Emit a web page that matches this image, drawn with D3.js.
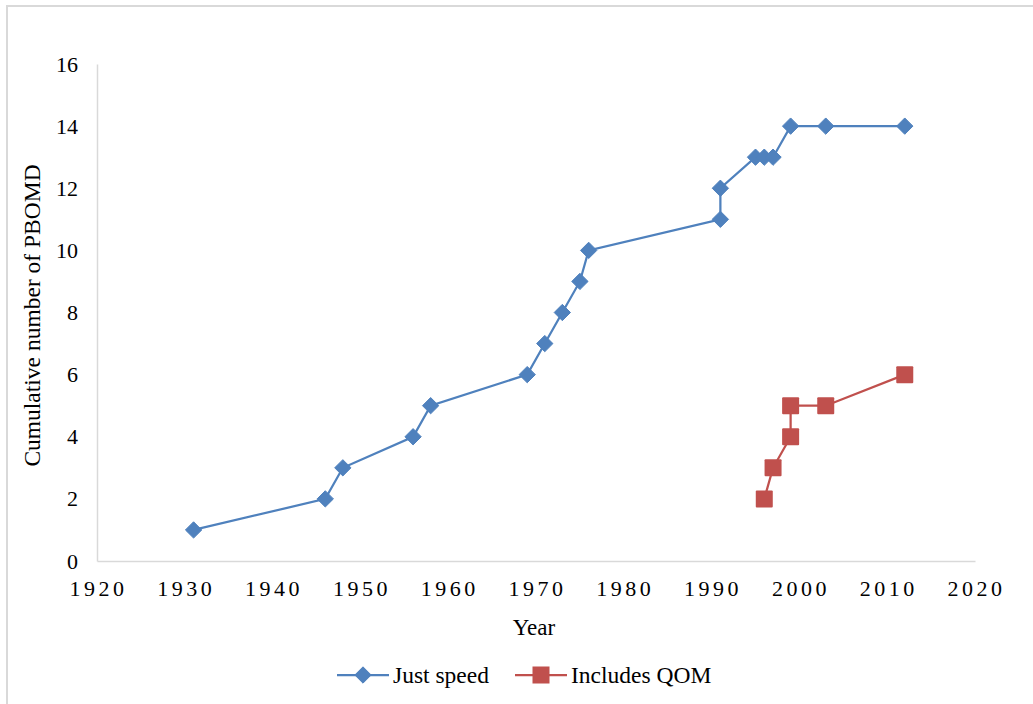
<!DOCTYPE html>
<html>
<head>
<meta charset="utf-8">
<script src="https://cdn.jsdelivr.net/npm/d3@7"></script>
<style>
  body { margin: 0; background: #fff; }
  svg text { font-family: "Liberation Serif", "Times New Roman", Times, serif; fill: #000; }
</style>
</head>
<body>
<div id="chart"></div>
<script>
// Just speed series
const speedYears = [1931, 1946, 1948, 1956, 1958, 1969, 1971, 1973, 1975, 1976, 1991, 1991, 1995, 1996, 1997, 1999, 2003, 2012];
const speedCounts = [1, 2, 3, 4, 5, 6, 7, 8, 9, 10, 11, 12, 13, 13, 13, 14, 14, 14];

// Includes QOM series
const qomYears = [1996, 1997, 1999, 1999, 2003, 2012];
const qomCounts = [2, 3, 4, 5, 5, 6];

const xTicks = [1920, 1930, 1940, 1950, 1960, 1970, 1980, 1990, 2000, 2010, 2020];
const yTicks = [0, 2, 4, 6, 8, 10, 12, 14, 16];

const seriesNames = ["Just speed", "Includes QOM"];
const colors = ["#4f81bd", "#c0504d"];

const width = 1033, height = 704;
const margin = { top: 64, right: 58, bottom: 143, left: 97 };
const innerW = width - margin.left - margin.right;
const innerH = height - margin.top - margin.bottom;

const svg = d3.select("#chart").append("svg")
    .attr("width", width)
    .attr("height", height);

// outer frame (cut off at right and bottom like the picture)
svg.append("rect")
    .attr("x", 7).attr("y", 6)
    .attr("width", width + 10).attr("height", height + 10)
    .attr("fill", "none")
    .attr("stroke", "#d9d9d9")
    .attr("stroke-width", 2);

const g = svg.append("g")
    .attr("transform", `translate(${margin.left},${margin.top})`);

const x = d3.scaleLinear().domain([1920, 2020]).range([0, innerW]);
const y = d3.scaleLinear().domain([0, 16]).range([innerH, 0]);

// axes
const xAxis = g.append("g")
    .attr("transform", `translate(0,${innerH})`)
    .call(d3.axisBottom(x).tickValues(xTicks).tickFormat(d3.format("d")).tickSize(0).tickPadding(19));
const yAxis = g.append("g")
    .call(d3.axisLeft(y).tickValues(yTicks).tickSize(0).tickPadding(19));

[xAxis, yAxis].forEach(a => {
    a.attr("font-family", null);
    a.select(".domain").attr("stroke", "#d9d9d9").attr("stroke-width", 1.5);
    a.selectAll("text")
        .style("font-family", '"Liberation Serif", "Times New Roman", serif')
        .style("font-size", "22px")
        .attr("fill", "#000");
});
xAxis.selectAll("text").style("letter-spacing", "3.5px").attr("dx", "1px");

// axis titles
g.append("text")
    .attr("x", innerW / 2 - 2)
    .attr("y", innerH + 74)
    .attr("text-anchor", "middle")
    .style("font-size", "23px")
    .text("Year");

g.append("text")
    .attr("transform", `translate(${-57},${innerH / 2 + 3}) rotate(-90)`)
    .attr("text-anchor", "middle")
    .style("font-size", "23.5px")
    .text("Cumulative number of PBOMD");

const line = d3.line().x(d => x(d[0])).y(d => y(d[1]));

const speedData = speedYears.map((v, i) => [v, speedCounts[i]]);
const qomData = qomYears.map((v, i) => [v, qomCounts[i]]);

// Just speed line + diamonds
g.append("path")
    .datum(speedData)
    .attr("d", line)
    .attr("fill", "none")
    .attr("stroke", colors[0])
    .attr("stroke-width", 2.25);

const diamond = d3.symbol().type(d3.symbolDiamond2).size(170);
g.selectAll(".diamond")
    .data(speedData)
    .enter().append("path")
    .attr("class", "diamond")
    .attr("transform", d => `translate(${x(d[0])},${y(d[1])})`)
    .attr("d", diamond)
    .attr("fill", colors[0])
    .attr("stroke", colors[0])
    .attr("stroke-width", 1);

// Includes QOM line + squares
g.append("path")
    .datum(qomData)
    .attr("d", line)
    .attr("fill", "none")
    .attr("stroke", colors[1])
    .attr("stroke-width", 2.25);

g.selectAll(".square")
    .data(qomData)
    .enter().append("rect")
    .attr("class", "square")
    .attr("x", d => x(d[0]) - 8.5)
    .attr("y", d => y(d[1]) - 8.5)
    .attr("width", 17).attr("height", 17)
    .attr("rx", 1)
    .attr("fill", colors[1]);

// legend
const legend = svg.append("g").attr("transform", "translate(337,675)");
const legendItems = [
    { name: seriesNames[0], color: colors[0], x: 0 },
    { name: seriesNames[1], color: colors[1], x: 178 }
];
legendItems.forEach((item, i) => {
    const lg = legend.append("g").attr("transform", `translate(${item.x},0)`);
    lg.append("line")
        .attr("x1", 0).attr("x2", 52)
        .attr("stroke", item.color)
        .attr("stroke-width", 2.25);
    if (i === 0) {
        lg.append("path")
            .attr("transform", "translate(26,0)")
            .attr("d", diamond)
            .attr("fill", item.color)
            .attr("stroke", item.color);
    } else {
        lg.append("rect")
            .attr("x", 26 - 8.5).attr("y", -8.5)
            .attr("width", 17).attr("height", 17)
            .attr("fill", item.color);
    }
    lg.append("text")
        .attr("x", 56)
        .attr("y", 8)
        .style("font-size", "23.5px")
        .text(item.name);
});
</script>
</body>
</html>
